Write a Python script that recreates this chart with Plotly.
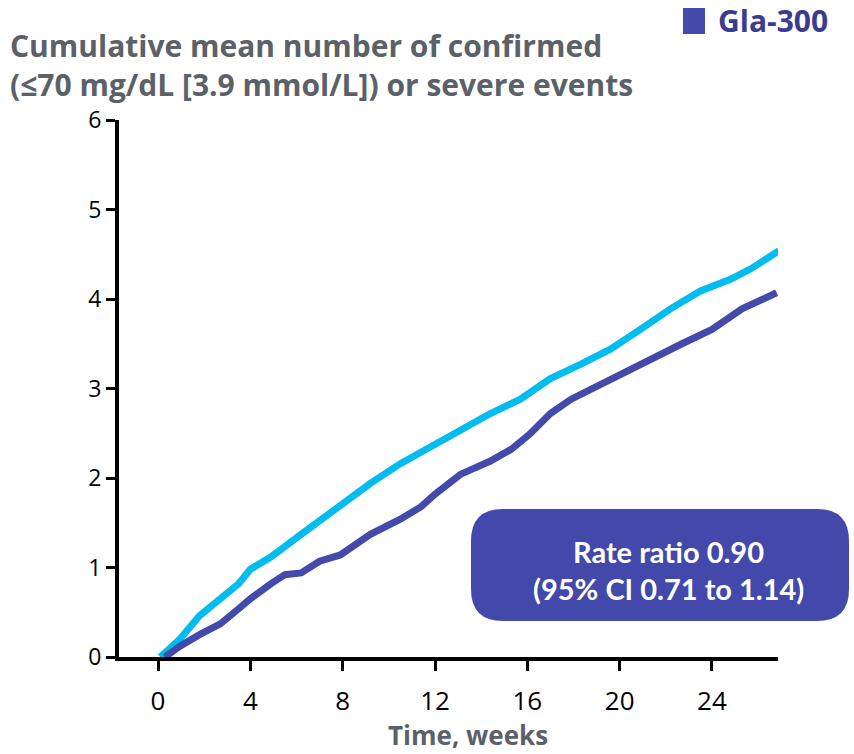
import plotly.graph_objects as go

# Gla-300 (dark blue)
weeks_300 = [0.3, 0.95, 1.8, 2.7, 3.5, 4.0, 4.9, 5.5, 6.2, 7.0, 7.9, 9.2, 10.5, 11.4, 12.0,
             13.1, 14.4, 15.3, 16.1, 17.0, 17.9, 19.2, 20.0, 21.4, 22.7, 24.0, 25.3, 26.8]
mean_300 = [0.0, 0.12, 0.25, 0.37, 0.54, 0.65, 0.82, 0.92, 0.94, 1.07, 1.14, 1.37, 1.54, 1.68, 1.82,
            2.04, 2.19, 2.32, 2.49, 2.72, 2.88, 3.05, 3.16, 3.33, 3.50, 3.66, 3.89, 4.07]

# Gla-100 (cyan)
weeks_100 = [0.1, 0.95, 1.8, 2.7, 3.5, 4.0, 4.9, 6.2, 7.0, 7.9, 9.2, 10.5, 12.0, 13.1, 14.4,
             15.7, 17.0, 18.3, 19.6, 20.9, 22.2, 23.5, 24.8, 25.7, 26.9]
mean_100 = [0.0, 0.2, 0.46, 0.65, 0.82, 0.98, 1.12, 1.37, 1.52, 1.71, 1.94, 2.16, 2.38, 2.55, 2.72,
            2.88, 3.11, 3.27, 3.44, 3.66, 3.89, 4.09, 4.22, 4.34, 4.54]

x_ticks = [0, 4, 8, 12, 16, 20, 24]
y_ticks = [0, 1, 2, 3, 4, 5, 6]

title_lines = ["Cumulative mean number of confirmed",
               "(≤70 mg/dL [3.9 mmol/L]) or severe events"]
x_title = "Time, weeks"
legend_label = "Gla-300"
box_lines = ["Rate ratio 0.90", "(95% CI 0.71 to 1.14)"]

CYAN = "#00BCEF"
NAVY = "#434AAB"
GRAY = "#5A6168"

fig = go.Figure()
fig.add_trace(go.Scatter(x=weeks_100, y=mean_100, mode="lines", name="Gla-100",
                         line=dict(color=CYAN, width=7), showlegend=False))
fig.add_trace(go.Scatter(x=weeks_300, y=mean_300, mode="lines", name="Gla-300",
                         line=dict(color=NAVY, width=7), showlegend=False))

W, H = 854, 754
ml, mr, mt, mb = 119, 76, 120, 97
pw, ph = W - ml - mr, H - mt - mb

fig.update_layout(
    width=W, height=H,
    margin=dict(l=ml, r=mr, t=mt, b=mb),
    paper_bgcolor="white", plot_bgcolor="white",
    font=dict(family="Open Sans", color="black"),
    showlegend=False,
    xaxis=dict(range=[-1.69, 26.86], tickvals=x_ticks, ticks="outside", ticklen=10, tickwidth=3,
               tickcolor="black", showline=True, linecolor="black", linewidth=4,
               showgrid=False, zeroline=False, tickfont=dict(size=26, family="Open Sans"),
               ticklabelstandoff=8),
    yaxis=dict(range=[0, 6], tickvals=y_ticks, ticks="outside", ticklen=9, tickwidth=3,
               tickcolor="black", showline=True, linecolor="black", linewidth=4,
               showgrid=False, zeroline=False, tickfont=dict(size=23, family="Open Sans")),
)

def px(x):
    return (x - ml) / pw

def py(y):
    return (H - mb - y) / ph

# title (two lines)
for line, yc in zip(title_lines, [45, 84]):
    fig.add_annotation(xref="paper", yref="paper", x=px(8), y=py(yc),
                       xanchor="left", yanchor="middle", showarrow=False,
                       text=f"<b>{line}</b>",
                       font=dict(size=30, color=GRAY, family="Open Sans"))

# x axis title
fig.add_annotation(xref="paper", yref="paper", x=px(468), y=py(735),
                   xanchor="center", yanchor="middle", showarrow=False,
                   text=f"<b>{x_title}</b>", font=dict(size=26, color=GRAY, family="Open Sans"))

# legend square + label
fig.add_shape(type="rect", xref="paper", yref="paper",
              x0=px(683), x1=px(705), y0=py(34), y1=py(8),
              fillcolor=NAVY, line=dict(width=0))
fig.add_annotation(xref="paper", yref="paper", x=px(716), y=py(21),
                   xanchor="left", yanchor="middle", showarrow=False,
                   text=f"<b>{legend_label}</b>", font=dict(size=30, color="#3B3B90", family="Open Sans"))

# rounded box
bx0, bx1, by0, by1, r = 471, 849, 509, 621, 32
path = (f"M {px(bx0 + r)},{py(by0)} L {px(bx1 - r)},{py(by0)} "
        f"Q {px(bx1)},{py(by0)} {px(bx1)},{py(by0 + r)} L {px(bx1)},{py(by1 - r)} "
        f"Q {px(bx1)},{py(by1)} {px(bx1 - r)},{py(by1)} L {px(bx0 + r)},{py(by1)} "
        f"Q {px(bx0)},{py(by1)} {px(bx0)},{py(by1 - r)} L {px(bx0)},{py(by0 + r)} "
        f"Q {px(bx0)},{py(by0)} {px(bx0 + r)},{py(by0)} Z")
fig.add_shape(type="path", xref="paper", yref="paper", path=path,
              fillcolor="#4349AA", line=dict(width=0), layer="above")
for line, yc in zip(box_lines, [551, 588]):
    fig.add_annotation(xref="paper", yref="paper", x=px(668), y=py(yc),
                       xanchor="center", yanchor="middle", showarrow=False,
                       text=f"<b>{line}</b>",
                       font=dict(size=29, color="white", family="Lato"))

fig.write_html("out.html")
